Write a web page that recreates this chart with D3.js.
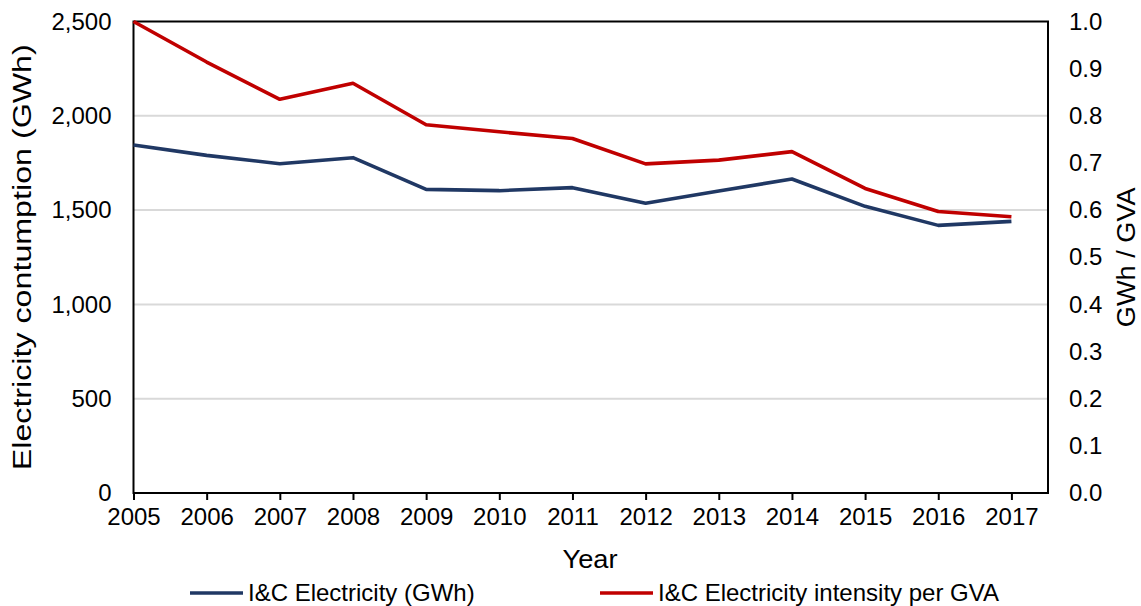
<!DOCTYPE html>
<html>
<head>
<meta charset="utf-8">
<script src="https://cdn.jsdelivr.net/npm/d3@7"></script>
<style>
  html, body { margin: 0; padding: 0; background: #fff; }
  svg { display: block; font-family: "Liberation Sans", Arial, sans-serif; }
</style>
</head>
<body>
<svg id="chart" width="1141" height="606"></svg>
<script>
// Industrial & commercial electricity, 2005–2017
const years = [2005, 2006, 2007, 2008, 2009, 2010, 2011, 2012, 2013, 2014, 2015, 2016, 2017];
const electricityGWh = [1845, 1790, 1746, 1778, 1610, 1603, 1619, 1536, 1601, 1665, 1520, 1419, 1440];
const intensityPerGVA = [1.0, 0.914, 0.835, 0.869, 0.781, 0.766, 0.752, 0.698, 0.706, 0.724, 0.646, 0.597, 0.586];
const leftTicks = [0, 500, 1000, 1500, 2000, 2500];
const rightTicks = [0, 0.1, 0.2, 0.3, 0.4, 0.5, 0.6, 0.7, 0.8, 0.9, 1.0];

const seriesNames = ["I&C Electricity (GWh)", "I&C Electricity intensity per GVA"];
const colors = ["#203864", "#C00000"];

const svg = d3.select("#chart");
const m = { left: 133.5, right: 1048, top: 21.5, bottom: 493 };
const fontSize = 24;
const titleSize = 26;
const ff = "Liberation Sans, Arial, sans-serif";

const x = d3.scaleLinear().domain([2005, 2017.5]).range([m.left, m.right]);
const yL = d3.scaleLinear().domain([0, 2500]).range([m.bottom, m.top]);
const yR = d3.scaleLinear().domain([0, 1]).range([m.bottom, m.top]);

// horizontal gridlines
svg.append("g")
  .selectAll("line")
  .data(leftTicks.filter(d => d > 0 && d < 2500))
  .join("line")
  .attr("x1", m.left).attr("x2", m.right)
  .attr("y1", d => yL(d)).attr("y2", d => yL(d))
  .attr("stroke", "#d9d9d9").attr("stroke-width", 2);

// left axis labels
const gL = svg.append("g")
  .attr("transform", `translate(${m.left},0)`)
  .call(d3.axisLeft(yL).tickValues(leftTicks).tickFormat(d3.format(",")).tickSize(0).tickPadding(22));
gL.select(".domain").remove();
gL.selectAll("text").attr("font-size", fontSize).attr("fill", "#000").attr("font-family", ff);

// right axis labels
const gR = svg.append("g")
  .attr("transform", `translate(${m.right},0)`)
  .call(d3.axisRight(yR).tickValues(rightTicks).tickFormat(d3.format(".1f")).tickSize(0).tickPadding(21));
gR.select(".domain").remove();
gR.selectAll("text").attr("font-size", fontSize).attr("fill", "#000").attr("font-family", ff);

// bottom axis with downward ticks
const gB = svg.append("g")
  .attr("transform", `translate(0,${m.bottom})`)
  .call(d3.axisBottom(x).tickValues(years).tickFormat(d3.format("d")).tickSize(7).tickPadding(8));
gB.select(".domain").remove();
gB.selectAll("line").attr("stroke", "#000").attr("stroke-width", 2);
gB.selectAll("text").attr("font-size", fontSize).attr("fill", "#000").attr("font-family", ff);

// plot frame
svg.append("rect")
  .attr("x", m.left).attr("y", m.top)
  .attr("width", m.right - m.left).attr("height", m.bottom - m.top)
  .attr("fill", "none").attr("stroke", "#000").attr("stroke-width", 2);

// series lines
const lineL = d3.line().x((d, i) => x(years[i])).y(d => yL(d));
const lineR = d3.line().x((d, i) => x(years[i])).y(d => yR(d));

svg.append("path").datum(electricityGWh)
  .attr("d", lineL).attr("fill", "none")
  .attr("stroke", colors[0]).attr("stroke-width", 3.6).attr("stroke-linejoin", "round");

svg.append("path").datum(intensityPerGVA)
  .attr("d", lineR).attr("fill", "none")
  .attr("stroke", colors[1]).attr("stroke-width", 3.6).attr("stroke-linejoin", "round");

// axis titles
const midY = (m.top + m.bottom) / 2;
svg.append("text")
  .attr("transform", `translate(31,${midY}) rotate(-90)`)
  .attr("text-anchor", "middle").attr("font-size", titleSize)
  .attr("textLength", 426).attr("lengthAdjust", "spacingAndGlyphs")
  .text("Electricity contumption (GWh)");

svg.append("text")
  .attr("transform", `translate(1135,${midY}) rotate(-90)`)
  .attr("text-anchor", "middle").attr("font-size", titleSize)
  .attr("textLength", 140).attr("lengthAdjust", "spacingAndGlyphs")
  .text("GWh / GVA");

svg.append("text")
  .attr("x", 590).attr("y", 568)
  .attr("text-anchor", "middle").attr("font-size", titleSize)
  .attr("textLength", 55).attr("lengthAdjust", "spacingAndGlyphs")
  .text("Year");

// legend
const legendX = [190, 600];
const legend = svg.append("g");
seriesNames.forEach((name, i) => {
  legend.append("line")
    .attr("x1", legendX[i]).attr("x2", legendX[i] + 53)
    .attr("y1", 593).attr("y2", 593)
    .attr("stroke", colors[i]).attr("stroke-width", 3.6);
  legend.append("text")
    .attr("x", legendX[i] + 58).attr("y", 601)
    .attr("font-size", fontSize)
    .text(name);
});
</script>
</body>
</html>
